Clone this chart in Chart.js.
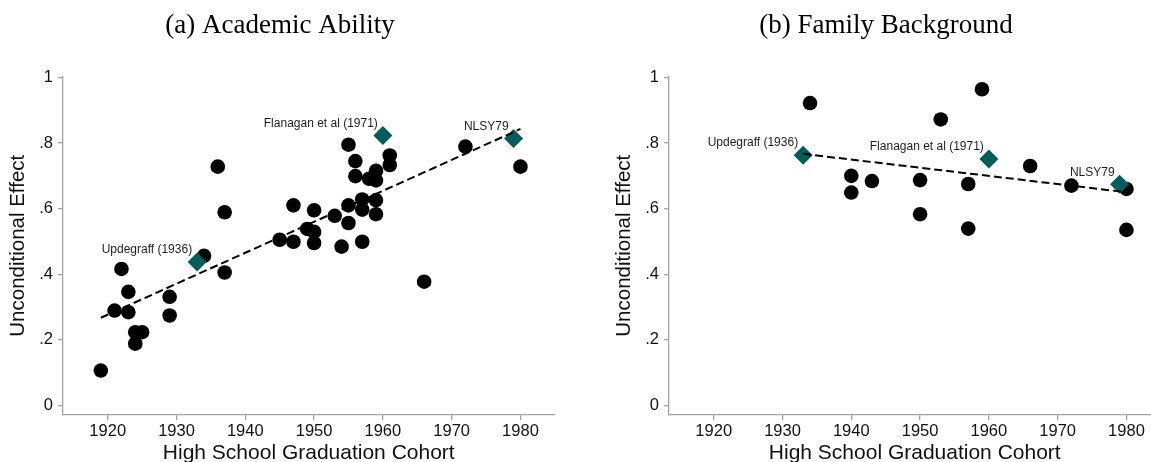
<!DOCTYPE html>
<html>
<head>
<meta charset="utf-8">
<script src="https://cdn.jsdelivr.net/npm/chart.js@4.4.1/dist/chart.umd.min.js"></script>
<style>
  html, body { margin: 0; padding: 0; background: #fff; overflow: hidden; }
  #wrap { position: relative; width: 1151px; height: 462px; overflow: hidden; }
  .panel { position: absolute; top: 0; width: 564px; height: 462px; }
</style>
</head>
<body>
<div id="wrap">
  <div class="panel" style="left:0px"><canvas id="ability" width="564" height="462"></canvas></div>
  <div class="panel" style="left:606px"><canvas id="family" width="564" height="462"></canvas></div>
</div>
<script>
// axis ticks
const xTicks = [1920, 1930, 1940, 1950, 1960, 1970, 1980];
const yTicks = [0, 0.2, 0.4, 0.6, 0.8, 1];
const yTickLabels = ['0', '.2', '.4', '.6', '.8', '1'];

// (a) academic ability: individual studies
const abilityYears = [1919, 1922, 1921, 1923, 1923, 1924, 1925, 1924, 1929, 1929,
  1934, 1936, 1937, 1937, 1945, 1947, 1947, 1949, 1950, 1950,
  1950, 1953, 1954, 1955, 1955, 1955, 1956, 1956, 1957, 1957,
  1957, 1958, 1959, 1959, 1959, 1959, 1961, 1961, 1966, 1972, 1980];
const abilityEffects = [0.106, 0.416, 0.289, 0.346, 0.284, 0.223, 0.223, 0.188, 0.331, 0.274,
  0.456, 0.728, 0.589, 0.405, 0.505, 0.610, 0.499, 0.538, 0.595, 0.529,
  0.495, 0.578, 0.484, 0.795, 0.610, 0.556, 0.745, 0.699, 0.628, 0.597,
  0.499, 0.691, 0.715, 0.686, 0.626, 0.583, 0.762, 0.733, 0.377, 0.789, 0.728];
// (a) highlighted studies
const abilityKeyYears = [1933, 1960, 1979];
const abilityKeyEffects = [0.437, 0.823, 0.814];
// (a) fitted line
const abilityFitYears = [1919, 1980];
const abilityFitEffects = [0.267, 0.843];

// (b) family background
const familyYears = [1934, 1940, 1940, 1943, 1950, 1950, 1953, 1957, 1957, 1959, 1966, 1972, 1980, 1980];
const familyEffects = [0.922, 0.700, 0.649, 0.684, 0.687, 0.583, 0.872, 0.675, 0.539, 0.964, 0.730, 0.670, 0.660, 0.535];
const familyKeyYears = [1933, 1960, 1979];
const familyKeyEffects = [0.763, 0.751, 0.674];
const familyFitYears = [1933, 1980];
const familyFitEffects = [0.767, 0.650];

const keyLabels = ['Updegraff (1936)', 'Flanagan et al (1971)', 'NLSY79'];

const SANS = "'Liberation Sans', Arial, sans-serif";
const AXIS_GREY = '#a3a3a3';
const TEAL = '#005e5a';

function pts(xs, ys) {
  return xs.map((x, i) => ({ x: x, y: ys[i] }));
}

// writes the study name up and to the left of each diamond
const keyLabelPlugin = {
  id: 'keyLabels',
  afterDatasetsDraw(chart) {
    const ctx = chart.ctx;
    chart.data.datasets.forEach((ds, i) => {
      if (!ds.pointNames) return;
      const meta = chart.getDatasetMeta(i);
      ctx.save();
      ctx.font = '12px ' + SANS;
      ctx.fillStyle = '#1e1e1e';
      ctx.textAlign = 'right';
      ctx.textBaseline = 'middle';
      meta.data.forEach((el, j) => {
        ctx.fillText(ds.pointNames[j], el.x - 5, el.y - 12);
      });
      ctx.restore();
    });
  }
};

function makePanel(id, title, years, effects, keyYears, keyEffects, fitYears, fitEffects) {
  new Chart(document.getElementById(id), {
    type: 'scatter',
    data: {
      datasets: [
        {
          type: 'line',
          data: pts(fitYears, fitEffects),
          borderColor: '#000',
          borderWidth: 2,
          borderDash: [8, 4],
          pointRadius: 0,
          fill: false,
          order: 0
        },
        {
          data: pts(keyYears, keyEffects),
          pointNames: keyLabels,
          pointStyle: 'rectRot',
          pointRadius: 9.5,
          backgroundColor: TEAL,
          borderColor: TEAL,
          borderWidth: 0,
          order: 1
        },
        {
          data: pts(years, effects),
          pointStyle: 'circle',
          pointRadius: 7.3,
          backgroundColor: '#000',
          borderColor: '#000',
          borderWidth: 0,
          order: 2
        }
      ]
    },
    options: {
      responsive: false,
      devicePixelRatio: 1,
      animation: false,
      layout: { padding: { left: 0, right: 4, top: 0, bottom: 0 } },
      plugins: {
        legend: { display: false },
        tooltip: { enabled: false },
        title: {
          display: true,
          text: title,
          color: '#000',
          font: { family: "'Liberation Serif', 'Times New Roman', serif", size: 27, weight: 'normal', lineHeight: 1.2 },
          padding: { top: 9.8, bottom: 34.3 }
        }
      },
      scales: {
        x: {
          type: 'linear',
          min: 1913.5,
          max: 1984.95,
          afterBuildTicks: s => { s.ticks = xTicks.map(v => ({ value: v })); },
          afterFit: s => { s.height = 47; },
          border: { display: true, color: AXIS_GREY, width: 1.3 },
          grid: { drawOnChartArea: false, drawTicks: true, tickLength: 5, color: AXIS_GREY, lineWidth: 1.3 },
          ticks: {
            color: '#111',
            font: { family: SANS, size: 16.5 },
            padding: 2,
            maxRotation: 0,
            callback: v => String(v)
          },
          title: {
            display: true,
            text: 'High School Graduation Cohort',
            color: '#111',
            font: { family: SANS, size: 21, lineHeight: 1 },
            padding: { top: 0, bottom: -1.5 }
          }
        },
        y: {
          type: 'linear',
          min: -0.0296,
          max: 1.003,
          afterBuildTicks: s => { s.ticks = yTicks.map(v => ({ value: v })); },
          afterFit: s => { s.width = 63; },
          border: { display: true, color: AXIS_GREY, width: 1.3 },
          grid: { drawOnChartArea: false, drawTicks: true, tickLength: 5, color: AXIS_GREY, lineWidth: 1.3 },
          ticks: {
            color: '#111',
            font: { family: SANS, size: 16.5 },
            padding: 5,
            callback: v => yTickLabels[yTicks.indexOf(v)]
          },
          title: {
            display: true,
            text: 'Unconditional Effect',
            color: '#111',
            font: { family: SANS, size: 20.5, lineHeight: 1.2 },
            padding: { top: 5.7, bottom: 0 }
          }
        }
      }
    },
    plugins: [keyLabelPlugin]
  });
}

makePanel('ability', '(a) Academic Ability', abilityYears, abilityEffects,
  abilityKeyYears, abilityKeyEffects, abilityFitYears, abilityFitEffects);
makePanel('family', '(b) Family Background', familyYears, familyEffects,
  familyKeyYears, familyKeyEffects, familyFitYears, familyFitEffects);
</script>
</body>
</html>
